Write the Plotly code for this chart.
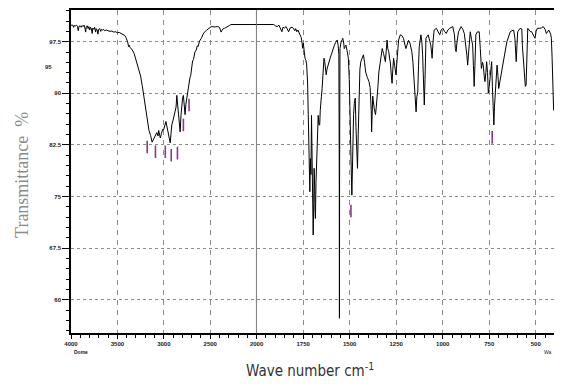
import plotly.graph_objects as go

# ---- data (wavenumber cm-1, transmittance %) ----
region_4000_2000 = [
    (4000, 99.9), (3990, 99.85), (3980, 99.9), (3972, 99.6), (3965, 99.85), (3950, 99.8),
    (3940, 99.9), (3930, 99.7), (3922, 99.1), (3914, 99.75), (3900, 99.8), (3890, 99.6),
    (3880, 99.85), (3870, 99.7), (3860, 99.9), (3850, 99.5), (3842, 98.9), (3835, 99.7),
    (3825, 99.8), (3815, 99.4), (3808, 99.7), (3798, 99.2), (3790, 99.6), (3780, 99.4),
    (3772, 98.7), (3765, 99.5), (3755, 99.3), (3745, 99.6), (3735, 98.9), (3728, 99.4),
    (3718, 99.2), (3710, 98.6), (3702, 99.3), (3690, 99.4), (3680, 99.0), (3670, 99.3),
    (3660, 99.2), (3650, 99.3), (3640, 99.1), (3620, 99.2), (3600, 99.1), (3580, 99.0),
    (3560, 99.05), (3540, 98.9), (3520, 98.95), (3500, 98.8), (3480, 98.85), (3460, 98.7),
    (3440, 98.6), (3420, 98.4), (3408, 98.1), (3390, 97.5), (3380, 96.8), (3373, 97.0),
    (3365, 96.7), (3340, 96.3), (3320, 95.8), (3302, 95.0), (3285, 94.3), (3267, 93.5),
    (3250, 92.5), (3232, 91.1), (3215, 89.5), (3203, 88.2), (3190, 87.0), (3179, 85.9),
    (3160, 84.6), (3143, 83.9), (3135, 83.4), (3126, 82.9), (3115, 83.2), (3100, 83.6),
    (3090, 84.0), (3075, 84.3), (3062, 83.8), (3055, 84.6), (3045, 83.9), (3037, 83.5),
    (3025, 84.2), (3010, 84.8), (3002, 84.7), (2990, 85.3), (2977, 85.9), (2965, 85.1),
    (2955, 84.3), (2949, 83.9), (2940, 83.4), (2931, 82.8), (2922, 84.2), (2914, 85.4),
    (2900, 86.1), (2888, 86.8), (2877, 87.3), (2868, 88.0), (2860, 89.7), (2850, 88.2),
    (2842, 87.0), (2835, 86.9), (2828, 85.0), (2824, 84.4), (2815, 86.8), (2807, 88.6),
    (2798, 89.3), (2789, 89.7), (2780, 88.0), (2771, 86.9), (2762, 88.4), (2754, 89.2),
    (2745, 89.8), (2736, 90.8), (2727, 91.4), (2718, 92.3), (2710, 92.6), (2701, 94.1),
    (2690, 94.7), (2680, 94.9), (2665, 96.0), (2650, 96.3), (2640, 96.9), (2630, 96.8),
    (2615, 97.6), (2600, 97.9), (2595, 98.0), (2580, 98.5), (2559, 98.95), (2540, 99.15),
    (2524, 99.3), (2500, 99.55), (2489, 99.7), (2450, 99.65), (2420, 99.7), (2400, 99.6),
    (2390, 99.3), (2383, 98.9), (2375, 99.1), (2360, 99.4), (2346, 99.45), (2320, 99.6),
    (2293, 99.85), (2276, 100.0), (2000, 100.0),
]

region_2000_400 = [
    (2000, 100.0), (1908, 100.0), (1898, 99.8), (1890, 99.7), (1880, 99.9), (1870, 99.4),
    (1864, 98.95), (1858, 99.6), (1850, 99.5), (1842, 99.7), (1835, 99.3), (1828, 98.95),
    (1820, 99.5), (1810, 99.6), (1802, 99.45), (1795, 99.1), (1790, 99.4), (1784, 98.95),
    (1778, 99.2), (1770, 98.7), (1767, 98.5), (1760, 98.1), (1755, 97.2), (1753, 96.54),
    (1749, 97.3), (1745, 96.0), (1740, 95.1), (1735, 94.8), (1731, 94.1), (1726, 91.5),
    (1722, 87.3), (1718, 82.0), (1714, 75.7), (1711, 80.5), (1708, 78.2), (1705, 86.8),
    (1703, 80.0), (1701, 75.2), (1698, 72.0), (1696, 69.4), (1693, 74.0), (1691, 79.1),
    (1688, 76.5), (1686, 73.0), (1684, 71.8), (1681, 77.0), (1678, 80.3), (1675, 83.0),
    (1672, 85.0), (1669, 86.8), (1665, 85.4), (1661, 85.4), (1658, 87.5), (1656, 88.8),
    (1652, 89.5), (1648, 90.7), (1643, 93.2), (1638, 95.1), (1634, 94.6), (1631, 94.1),
    (1628, 93.0), (1626, 92.7), (1622, 93.5), (1617, 94.1), (1610, 94.8), (1605, 95.1),
    (1599, 95.6), (1592, 96.3), (1585, 96.9), (1582, 97.0), (1575, 97.4), (1567, 97.75),
    (1562, 97.0), (1558, 95.6), (1556, 80.0), (1555, 57.3), (1554, 80.0), (1552, 96.5),
    (1546, 97.5), (1540, 97.8), (1537, 98.0), (1532, 97.3), (1529, 96.5), (1524, 96.8),
    (1520, 97.0), (1514, 96.2), (1507, 95.1), (1502, 92.0), (1497, 83.0), (1493, 78.0),
    (1490, 77.0), (1488, 75.2), (1485, 80.0), (1482, 84.0), (1479, 86.9), (1475, 88.5),
    (1470, 89.3), (1466, 85.0), (1462, 81.0), (1458, 79.1), (1454, 84.0), (1449, 91.7),
    (1445, 93.5), (1440, 94.6), (1433, 95.2), (1426, 95.6), (1420, 94.5), (1414, 93.1),
    (1405, 92.3), (1396, 91.7), (1390, 90.8), (1387, 89.3), (1384, 87.5), (1382, 84.4),
    (1379, 87.0), (1376, 89.6), (1373, 88.9), (1368, 87.8), (1361, 86.9), (1357, 88.0),
    (1352, 89.3), (1348, 91.0), (1343, 93.1), (1338, 94.2), (1334, 95.1), (1330, 95.9),
    (1325, 96.5), (1318, 95.8), (1312, 95.0), (1308, 94.6), (1304, 96.0), (1299, 97.75),
    (1295, 96.5), (1290, 96.05), (1285, 95.0), (1281, 94.4), (1276, 92.5), (1272, 91.45),
    (1268, 93.5), (1264, 95.1), (1258, 94.0), (1251, 92.7), (1244, 95.3), (1237, 97.75),
    (1228, 98.5), (1220, 98.4), (1211, 98.0), (1204, 97.2), (1198, 96.5), (1192, 97.0),
    (1184, 97.7), (1176, 97.3), (1166, 96.05), (1160, 94.5), (1155, 92.0), (1152, 91.7),
    (1147, 89.0), (1143, 87.3), (1139, 89.5), (1134, 90.2), (1130, 94.0), (1126, 96.8),
    (1117, 98.5), (1112, 97.5), (1108, 95.6), (1104, 92.0), (1099, 88.3), (1095, 92.0),
    (1090, 98.0), (1078, 98.5), (1070, 97.8), (1064, 97.0), (1060, 96.0), (1057, 95.1),
    (1052, 97.5), (1046, 99.2), (1034, 99.45), (1025, 99.0), (1016, 98.5), (1008, 99.2),
    (999, 99.45), (990, 99.0), (981, 98.7), (972, 99.2), (963, 99.45), (946, 99.7),
    (937, 98.5), (932, 96.5), (928, 96.05), (923, 97.5), (915, 98.95), (901, 99.7),
    (892, 99.3), (884, 98.7), (875, 97.0), (870, 95.5), (866, 94.1), (862, 96.0),
    (852, 98.95), (845, 97.8), (839, 97.0), (835, 94.0), (831, 91.0), (827, 94.0),
    (822, 98.5), (815, 98.9), (804, 98.95), (798, 96.5), (792, 93.6), (786, 94.5),
    (782, 94.1), (777, 92.5), (773, 91.7), (768, 93.0), (764, 94.6), (759, 93.0),
    (755, 90.0), (750, 91.0), (746, 92.2), (741, 93.5), (737, 94.6), (733, 91.0),
    (730, 88.8), (727, 86.5), (725, 85.4), (722, 88.0), (719, 89.5), (716, 91.7),
    (712, 93.0), (708, 94.1), (703, 92.5), (699, 90.7), (694, 91.5), (690, 92.2),
    (683, 93.2), (676, 94.1), (665, 96.0), (655, 97.5), (645, 98.4), (637, 98.95),
    (628, 99.1), (619, 99.2), (612, 98.0), (608, 96.0), (605, 94.6), (601, 97.0),
    (597, 98.95), (584, 99.45), (575, 99.35), (572, 97.0), (563, 93.0), (556, 91.0),
    (552, 91.2), (548, 95.0), (543, 99.45), (530, 99.0), (522, 98.95), (510, 98.3),
    (504, 98.0), (498, 99.0), (492, 99.45), (478, 99.45), (470, 99.5), (460, 99.7),
    (450, 99.3), (443, 98.7), (436, 99.0), (430, 99.2), (420, 98.6), (416, 98.0),
    (412, 95.0), (408, 88.8), (404, 87.5),
]

peak_marker_wn = [3179, 3090, 2984, 2920, 2853, 2789, 2728, 1493, 734]
peak_marker_t = [82.2, 81.5, 81.5, 81.0, 81.3, 85.4, 88.3, 72.9, 83.6]

x_ticks_left = [4000, 3500, 3000, 2500, 2000]
x_ticks_right = [1750, 1500, 1250, 1000, 750, 500]
y_ticks = [97.5, 90, 82.5, 75, 67.5, 60]
y_tick_labels = ["97.5", "90", "82.5", "75", "67.5", "60"]

wn_left = [p[0] for p in region_4000_2000]
t_left = [p[1] for p in region_4000_2000]
wn_right = [p[0] for p in region_2000_400]
t_right = [p[1] for p in region_2000_400]

left_dom = 188.3 / 490.0

fig = go.Figure()
fig.add_trace(go.Scatter(x=wn_left, y=t_left, xaxis="x", yaxis="y", mode="lines",
                         line=dict(color="black", width=1), showlegend=False))
fig.add_trace(go.Scatter(x=wn_right, y=t_right, xaxis="x2", yaxis="y", mode="lines",
                         line=dict(color="black", width=1), showlegend=False))

pm_l = [(w, t) for w, t in zip(peak_marker_wn, peak_marker_t) if w >= 2000]
pm_r = [(w, t) for w, t in zip(peak_marker_wn, peak_marker_t) if w < 2000]
for pts, xa in ((pm_l, "x"), (pm_r, "x2")):
    fig.add_trace(go.Scatter(x=[p[0] for p in pts], y=[p[1] for p in pts], xaxis=xa, yaxis="y",
                             mode="markers", showlegend=False,
                             marker=dict(symbol="line-ns", size=9,
                                         line=dict(color="#8a3a8a", width=1.6))))

tickfont = dict(family="Liberation Sans", size=6, color="#222", weight="bold")
grid_col = "#8c8c8c"

common_x = dict(showline=True, linecolor="black", linewidth=1.5, mirror=True,
                ticks="outside", ticklen=4, tickcolor="black", tickwidth=1,
                showgrid=True, gridcolor=grid_col, gridwidth=1.2, griddash="5px,5px",
                zeroline=False, tickfont=tickfont, anchor="y")

fig.update_layout(
    width=561, height=387,
    margin=dict(l=71, r=0, t=10, b=54),
    paper_bgcolor="white", plot_bgcolor="white",
    xaxis=dict(domain=[0, left_dom], range=[4000, 2000], tickvals=x_ticks_left,
               ticktext=[str(v) for v in x_ticks_left],
               minor=dict(dtick=100, ticks="outside", ticklen=3, tickcolor="black", showgrid=False),
               **common_x),
    xaxis2=dict(domain=[left_dom, 1], range=[2000, 402], tickvals=x_ticks_right,
                ticktext=[str(v) for v in x_ticks_right],
                minor=dict(dtick=50, ticks="outside", ticklen=3, tickcolor="black", showgrid=False),
                **common_x),
    yaxis=dict(domain=[0, 1], range=[55.16, 102.11], tickvals=y_ticks, ticktext=y_tick_labels,
               showline=True, linecolor="black", linewidth=1.5, ticks="outside", ticklen=7,
               tickcolor="black", showgrid=True, gridcolor=grid_col, gridwidth=1.2,
               griddash="3px,3px", zeroline=False, tickfont=tickfont, anchor="x",
               minor=dict(tick0=97.5, dtick=1.5, ticks="outside", ticklen=3,
                          tickcolor="black", showgrid=False)),
    shapes=[dict(type="line", xref="x", yref="paper", x0=2000, x1=2000, y0=0, y1=1,
                 line=dict(color="#333", width=1.3))],
    annotations=[
        dict(text="Transmittance  %", x=-0.103, y=0.49, xref="paper", yref="paper",
             textangle=-90, showarrow=False, xanchor="center", yanchor="middle",
             font=dict(family="Liberation Serif", size=18, color="#8a8a8a")),
        dict(text="Wave number cm<sup>-1</sup>", x=0.494, y=-0.115, xref="paper", yref="paper",
             showarrow=False, xanchor="center", yanchor="middle",
             font=dict(family="Liberation Sans Narrow, DejaVu Sans Condensed", size=15, color="#333")),
        dict(text="95", x=-0.035, y=93.8, xref="paper", yref="y", showarrow=False,
             xanchor="right", yanchor="middle", font=tickfont),
        dict(text="Dome", x=0.002, y=-0.058, xref="paper", yref="paper", showarrow=False,
             xanchor="left", yanchor="middle",
             font=dict(family="Liberation Sans", size=5, color="#222", weight="bold")),
        dict(text="Wa", x=1.0, y=-0.058, xref="paper", yref="paper", showarrow=False,
             xanchor="right", yanchor="middle",
             font=dict(family="Liberation Sans", size=5, color="#222")),
    ],
)

fig.write_html("out.html")
